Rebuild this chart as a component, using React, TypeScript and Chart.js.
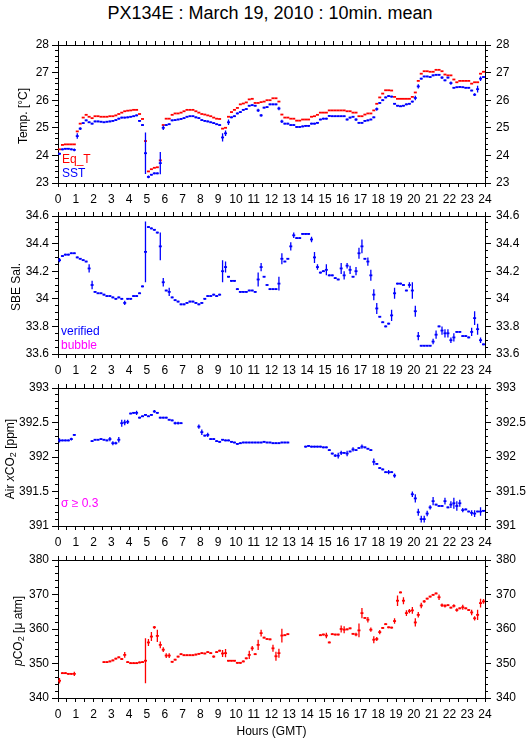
import React, { useEffect, useRef } from 'react';
import { Chart, registerables } from 'chart.js';

Chart.register(...registerables);

const FONT = "'Liberation Sans', Arial, Helvetica, sans-serif";
const PAGE_W = 529;
const PAGE_H = 739;
const PLOT_LEFT = 58;
const PLOT_RIGHT = 485;
const PLOT_H = 138;
const BAND = 30;
const PANEL_TOPS = [45, 216, 388, 560];
const YTITLE_X = [23, 16, 10, 18];

const HOUR_LABELS = ['0', '1', '2', '3', '4', '5', '6', '7', '8', '9', '10', '11', '12', '13', '14', '15', '16', '17', '18', '19', '20', '21', '22', '23', '24'];
const TEMP_TICKS = [23, 24, 25, 26, 27, 28];
const SAL_TICKS = [33.6, 33.8, 34, 34.2, 34.4, 34.6];
const AIR_TICKS = [391, 391.5, 392, 392.5, 393];
const PCO2_TICKS = [340, 350, 360, 370, 380];

// 10-minute means, 144 per day (index 0 = 00:00-00:10 GMT)
const EQ_T = [
  24.22, 24.38, 24.4, 24.4, 24.4, 24.4,
  24.87, 25.15, 25.37, 25.47, 25.4, 25.35,
  25.42, 25.42, 25.4, 25.4, 25.4, 25.42,
  25.42, 25.45, 25.5, 25.55, 25.6, 25.62,
  25.63, 25.65, 25.65, 25.5, 25.32, 24.52,
  23.42, 23.5, 23.55, 23.57, 23.82, 25.1,
  25.33, 25.33, 25.47, 25.52, 25.52, 25.55,
  25.6, 25.65, 25.65, 25.65, 25.6, 25.55,
  25.5, 25.48, 25.45, 25.42, 25.37, 25.33,
  25.32, 24.97, 25.0, 25.4, 25.57, 25.65,
  25.72, 25.85, 25.88, 25.92, 26.03, 26.05,
  25.9, 25.9, 25.93, 25.95, 26.0, 26.0,
  26.07, 26.07, 25.95, 25.48, 25.37, 25.37,
  25.33, 25.33, 25.26, 25.26, 25.3, 25.3,
  25.3, 25.4, 25.42, 25.47, 25.55, 25.55,
  25.55, 25.63, 25.63, 25.63, 25.63, 25.63,
  25.63, 25.6, 25.6, 25.55, 25.55, 25.42,
  25.42, 25.48, 25.52, 25.52, 25.63, 25.87,
  26.1, 26.24, 26.36, 26.36, 26.35, 26.12,
  26.05, 26.05, 26.05, 26.05, 26.05, 26.12,
  26.28, 26.7, 26.96, 27.05, 27.05, 27.03,
  27.03, 27.1, 27.1, 27.05, 26.93, 26.9,
  26.9, 26.75, 26.65, 26.7, 26.7, 26.7,
  26.7, 26.6, 26.65, 26.65, 26.96, 27.03,
];

const SST = [
  24.06, 24.22, 24.24, 24.24, 24.22, 24.2,
  24.7, 24.97, 25.17, 25.27, 25.2, 25.15,
  25.23, 25.23, 25.22, 25.2, 25.22, 25.23,
  25.25, 25.28, 25.33, 25.37, 25.37, 25.38,
  25.4, 25.42, 25.45, 25.25, 25.1, 24.08,
  23.22, 23.3, 23.35, 23.35, 23.72, 25.0,
  25.1, 25.13, 25.27, 25.28, 25.3, 25.32,
  25.35, 25.4, 25.42, 25.42, 25.38, 25.35,
  25.28, 25.25, 25.23, 25.2, 25.17, 25.13,
  25.1, 24.65, 24.8, 25.2, 25.38, 25.42,
  25.52, 25.57, 25.65, 25.68, 25.8, 25.82,
  25.8, 25.63, 25.45, 25.73, 25.75, 25.85,
  25.85, 25.85, 25.7, 25.23, 25.15, 25.15,
  25.1, 25.1, 25.03, 25.03, 25.05, 25.07,
  25.07, 25.15, 25.15, 25.18, 25.3, 25.33,
  25.33, 25.43, 25.42, 25.42, 25.42, 25.42,
  25.42, 25.3, 25.37, 25.4, 25.3, 25.18,
  25.18, 25.25, 25.27, 25.3, 25.38, 25.68,
  25.9, 26.0, 26.1, 26.15, 26.13, 25.87,
  25.8, 25.78, 25.8, 25.85, 25.87, 25.95,
  26.08, 26.5, 26.78, 26.86, 26.86, 26.84,
  26.9, 26.92, 26.92, 26.82, 26.72, 26.82,
  26.62, 26.45, 26.47, 26.48, 26.47, 26.45,
  26.45, 26.35, 26.2, 26.4, 26.78, 26.84,
];
const SST_SD: [number, number][] = [
  [0, 0.04], [5, 0.05], [6, 0.1], [7, 0.05], [29, 0.75], [30, 0.05], [34, 0.4], [35, 0.08],
  [55, 0.15], [56, 0.1], [57, 0.1], [67, 0.06], [68, 0.05], [74, 0.06], [75, 0.06], [97, 0.04],
  [100, 0.05], [107, 0.06], [120, 0.08], [121, 0.08], [129, 0.05], [132, 0.06], [140, 0.05],
  [141, 0.12], [142, 0.08],
];

const SAL = [
  34.28, 34.31, 34.32, 34.32, 34.33, 34.33,
  34.3, 34.29, 34.28, 34.27, 34.22, 34.1,
  34.05, 34.04, 34.04, 34.03, 34.02, 34.02,
  34.01, 34.0, 34.01, 34.0, 33.97, 34.0,
  34.0, 34.02, 34.02, 34.04, 34.09, 34.34,
  34.52, 34.51, 34.5, 34.48, 34.38, 34.12,
  34.06, 34.05, 34.01, 33.99, 33.98, 33.96,
  33.96, 33.97, 33.98, 33.98, 33.97, 33.96,
  33.97, 34.0, 34.02, 34.02, 34.03, 34.02,
  34.03, 34.2, 34.23, 34.16, 34.13, 34.13,
  34.07, 34.05, 34.05, 34.05, 34.06, 34.06,
  34.05, 34.14, 34.23, 34.16, 34.1, 34.07,
  34.07, 34.07, 34.11, 34.29, 34.27, 34.29,
  34.38, 34.46, 34.44, 34.44, 34.47, 34.47,
  34.47, 34.43, 34.3, 34.23, 34.19, 34.2,
  34.21, 34.17, 34.17, 34.15, 34.14, 34.22,
  34.17, 34.24, 34.21, 34.16, 34.2, 34.33,
  34.38, 34.29, 34.27, 34.17, 34.03, 33.93,
  33.87, 33.83, 33.8, 33.82, 33.88, 34.04,
  34.11, 34.11, 34.1, 34.06, 34.1, 34.06,
  33.91, 33.73, 33.66, 33.66, 33.66, 33.66,
  33.69, 33.74, 33.8, 33.77, 33.75, 33.75,
  33.7, 33.72, 33.76, 33.76, 33.73, 33.73,
  33.72, 33.76, 33.86, 33.78, 33.7, 33.67,
];
const SAL_SD: [number, number][] = [
  [0, 0.015], [10, 0.03], [11, 0.03], [22, 0.015], [29, 0.22], [34, 0.1], [35, 0.03], [37, 0.03],
  [55, 0.08], [56, 0.04], [67, 0.05], [68, 0.03], [74, 0.05], [75, 0.04], [78, 0.03], [79, 0.02],
  [85, 0.02], [86, 0.04], [87, 0.02], [90, 0.04], [95, 0.04], [96, 0.03], [97, 0.02], [98, 0.03],
  [100, 0.03], [101, 0.04], [102, 0.05], [104, 0.03], [105, 0.04], [106, 0.04], [107, 0.04],
  [112, 0.04], [113, 0.04], [118, 0.02], [119, 0.06], [120, 0.04], [121, 0.03], [126, 0.02],
  [127, 0.03], [129, 0.03], [130, 0.03], [131, 0.03], [132, 0.02], [133, 0.03], [139, 0.03],
  [140, 0.05], [141, 0.04], [142, 0.02],
];

const AIR = [
  392.24, 392.24, 392.24, 392.24, 392.26, 392.32,
  null, null, null, null, null, 392.23,
  392.25, 392.25, 392.26, 392.25, 392.24, 392.26,
  392.2, 392.2, 392.25, 392.49, 392.5, 392.51,
  392.63, 392.64, 392.64, 392.57, 392.59, 392.61,
  392.59, 392.61, 392.66, 392.64, 392.57, 392.57,
  392.57, 392.54, 392.53, 392.49, 392.49, 392.49,
  null, null, null, null, null, 392.44,
  392.36, 392.31, 392.32, 392.26, 392.26, 392.23,
  392.22, 392.25, 392.24, 392.24, 392.22, 392.21,
  392.19, 392.2, 392.21, 392.21, 392.21, 392.21,
  392.21, 392.21, 392.21, 392.22, 392.21, 392.21,
  392.2, 392.2, 392.2, 392.21, 392.21, 392.21,
  null, null, null, null, null, 392.15,
  392.16, 392.15, 392.15, 392.15, 392.15, 392.14,
  392.14, 392.1, 392.05, 392.02, 392.02, 392.06,
  392.06, 392.05, 392.08, 392.11, 392.1, 392.13,
  392.15, 392.14, 392.12, 392.1, 391.93, 391.9,
  391.84, 391.82, 391.78, 391.78, 391.78, 391.73,
  null, null, null, null, null, 391.46,
  391.4, 391.2, 391.1, 391.1, 391.18, 391.27,
  391.36, 391.31, 391.29, 391.29, 391.36, 391.27,
  391.31, 391.33, 391.29, 391.33, 391.23, 391.24,
  391.21, 391.19, 391.18, 391.21, 391.21, 391.22,
];
const AIR_SD: [number, number][] = [
  [0, 0.03], [4, 0.02], [17, 0.03], [18, 0.03], [19, 0.02], [20, 0.04], [21, 0.05], [22, 0.04],
  [23, 0.03], [26, 0.03], [32, 0.02], [39, 0.02], [40, 0.02], [47, 0.03], [48, 0.04], [50, 0.03],
  [93, 0.02], [94, 0.04], [95, 0.03], [97, 0.04], [99, 0.03], [102, 0.03], [106, 0.05], [111, 0.03],
  [113, 0.03], [119, 0.04], [120, 0.06], [121, 0.05], [122, 0.05], [123, 0.05], [124, 0.04],
  [125, 0.03], [126, 0.06], [130, 0.05], [132, 0.05], [133, 0.08], [134, 0.07], [135, 0.05],
  [136, 0.03], [139, 0.04], [140, 0.05], [142, 0.06],
];

const PCO2 = [
  345.0, 347.2, 347.2, 347.0, 347.0, 347.0,
  null, null, null, null, null, null,
  null, null, null, 350.4, 350.4, 350.6,
  350.9, 351.4, 351.8, 351.3, 352.5, 350.4,
  350.1, 350.1, 350.1, 350.3, 350.4, 350.8,
  356.1, 357.8, 360.5, 358.0, 355.4, 354.0,
  352.3, 352.3, 350.5, 351.1, 352.0, 352.7,
  352.4, 352.4, 352.4, 352.4, 352.6, 352.8,
  353.0, 352.9, 353.3, 353.0, 352.0, 353.3,
  353.7, 352.9, 353.0, 350.8, 350.8, 350.8,
  350.2, 350.2, 350.6, 351.5, 352.5, 354.4,
  352.7, 355.4, 358.8, 357.5, 357.1, 357.0,
  354.4, 352.1, 353.0, 358.1, 358.2, 358.5,
  null, null, null, null, null, null,
  null, null, null, null, 358.2, 358.4,
  358.1, 356.1, 358.5, 358.4, 358.4, 360.0,
  359.8, 359.9, 360.2, 358.6, 358.4, 359.6,
  364.6, 363.2, 362.7, 359.8, 356.9, 357.1,
  359.1, 360.3, 361.4, 360.5, 360.4, 362.3,
  368.2, 370.6, 368.2, 364.6, 365.2, 365.4,
  361.9, 364.1, 366.8, 368.0, 368.8, 369.4,
  369.9, 370.3, 369.2, 366.9, 366.7, 366.9,
  366.2, 366.7, 365.5, 366.0, 366.3, 366.0,
  365.5, 364.8, 363.1, 364.1, 367.5, 368.0,
];
const PCO2_SD: [number, number][] = [
  [0, 0.8], [5, 0.6], [22, 0.8], [29, 6.5], [30, 1.0], [31, 1.3], [32, 0.4], [33, 1.8], [34, 1.0],
  [35, 0.7], [36, 0.7], [37, 0.7], [52, 0.3], [55, 1.0], [56, 1.2], [64, 1.2], [65, 0.7], [67, 1.5],
  [68, 1.0], [72, 1.0], [73, 1.3], [74, 1.3], [75, 2.0], [90, 0.8], [95, 1.0], [96, 1.0], [100, 0.5],
  [101, 2.0], [102, 1.5], [104, 0.8], [105, 0.6], [106, 1.0], [107, 0.6], [108, 0.6], [113, 0.8],
  [114, 1.5], [116, 1.0], [117, 0.8], [118, 0.6], [119, 1.0], [120, 1.2], [121, 0.8], [122, 0.8],
  [123, 0.4], [128, 0.8], [129, 0.5], [130, 0.5], [133, 0.5], [134, 0.5], [136, 0.7], [139, 0.8],
  [140, 0.6], [141, 1.5], [142, 1.3], [143, 0.7],
];

const RED = '#ff0000';
const BLUE = '#0000ff';
const MAGENTA = '#ff00ff';

type Series = {
  label: string;
  values: (number | null)[];
  color: string;
  sdDefault: number | null;
  sdOverrides: [number, number][];
};

type Panel = {
  min: number;
  max: number;
  major: number[];
  minorStep: number;
  series: Series[];
};

const PANELS: Panel[] = [
  {
    min: 23, max: 28, major: TEMP_TICKS, minorStep: 0.2,
    series: [
      { label: 'SST', values: SST, color: BLUE, sdDefault: 0.03, sdOverrides: SST_SD },
      { label: 'Eq_T', values: EQ_T, color: RED, sdDefault: null, sdOverrides: [] },
    ],
  },
  {
    min: 33.6, max: 34.6, major: SAL_TICKS, minorStep: 0.05,
    series: [{ label: 'verified', values: SAL, color: BLUE, sdDefault: 0.006, sdOverrides: SAL_SD }],
  },
  {
    min: 391, max: 393, major: AIR_TICKS, minorStep: 0.1,
    series: [{ label: 'Air xCO2', values: AIR, color: BLUE, sdDefault: 0.012, sdOverrides: AIR_SD }],
  },
  {
    min: 340, max: 380, major: PCO2_TICKS, minorStep: 2,
    series: [{ label: 'pCO2', values: PCO2, color: RED, sdDefault: 0.25, sdOverrides: PCO2_SD }],
  },
];

const binCenter = (i: number) => i / 6 + 1 / 12;

function buildPoints(s: Series) {
  const sd: (number | null)[] = s.values.map(() => s.sdDefault);
  s.sdOverrides.forEach(([i, v]) => { sd[i] = v; });
  const pts: { x: number; y: number; sd: number | null }[] = [];
  s.values.forEach((v, i) => {
    if (v !== null && v !== undefined) pts.push({ x: binCenter(i), y: v, sd: sd[i] });
  });
  return pts;
}

const errorBarPlugin = {
  id: 'errorBars',
  afterDatasetsDraw(chart: any) {
    const { ctx, scales } = chart;
    const xs = scales.x;
    const ys = scales.y;
    chart.data.datasets.forEach((ds: any) => {
      ctx.save();
      ctx.strokeStyle = ds.pointBorderColor;
      ctx.lineWidth = 1.3;
      ctx.beginPath();
      ds.data.forEach((p: any) => {
        if (!p.sd) return;
        const x = xs.getPixelForValue(p.x);
        ctx.moveTo(x, ys.getPixelForValue(p.y + p.sd));
        ctx.lineTo(x, ys.getPixelForValue(p.y - p.sd));
      });
      ctx.stroke();
      ctx.restore();
    });
  },
};

function halfHourTicks() {
  const t: { value: number }[] = [];
  for (let i = 0; i <= 48; i++) t.push({ value: i / 2 });
  return t;
}

function minorTicks(min: number, max: number, step: number) {
  const t: { value: number }[] = [];
  const n = Math.round((max - min) / step);
  for (let i = 0; i <= n; i++) t.push({ value: min + i * step });
  return t;
}

function makeConfig(panel: Panel): any {
  const tickFont = { family: FONT, size: 12 };
  const xCommon = (position: 'top' | 'bottom', labels: boolean) => ({
    type: 'linear',
    axis: 'x',
    position,
    min: 0,
    max: 24,
    afterBuildTicks: (s: any) => { s.ticks = halfHourTicks(); },
    afterFit: (s: any) => { s.height = BAND; },
    grid: { drawOnChartArea: false, drawTicks: true, tickLength: 4, color: '#000', lineWidth: 1 },
    border: { display: true, color: '#000', width: 1 },
    ticks: {
      display: labels,
      autoSkip: false,
      maxRotation: 0,
      minRotation: 0,
      padding: 5,
      color: '#000',
      font: tickFont,
      callback: (v: number) => (Number.isInteger(v) ? HOUR_LABELS[v] : ''),
    },
  });
  const yMajor = (position: 'left' | 'right', width: number, padding: number) => ({
    type: 'linear',
    axis: 'y',
    position,
    weight: 1,
    min: panel.min,
    max: panel.max,
    afterBuildTicks: (s: any) => { s.ticks = panel.major.map((v) => ({ value: v })); },
    afterFit: (s: any) => { s.width = width; },
    grid: { drawOnChartArea: false, drawTicks: true, tickLength: 6, color: '#000', lineWidth: 1 },
    border: { display: true, color: '#000', width: 1 },
    ticks: { padding, color: '#000', font: tickFont, callback: (v: number) => String(v) },
  });
  const yMinor = (position: 'left' | 'right') => ({
    type: 'linear',
    axis: 'y',
    position,
    weight: 0,
    min: panel.min,
    max: panel.max,
    afterBuildTicks: (s: any) => { s.ticks = minorTicks(panel.min, panel.max, panel.minorStep); },
    afterFit: (s: any) => { s.width = 0; },
    grid: { drawOnChartArea: false, drawTicks: true, tickLength: 3, color: '#000', lineWidth: 1 },
    border: { display: true, color: '#000', width: 1 },
    ticks: { display: false },
  });

  return {
    type: 'scatter',
    data: {
      datasets: panel.series.map((s) => ({
        label: s.label,
        data: buildPoints(s),
        showLine: false,
        pointStyle: 'line',
        pointRadius: 1.5,
        pointHoverRadius: 1.5,
        pointBorderWidth: 1.8,
        pointHoverBorderWidth: 1.8,
        pointBorderColor: s.color,
        pointBackgroundColor: s.color,
        borderColor: s.color,
        clip: false,
      })),
    },
    options: {
      responsive: false,
      maintainAspectRatio: false,
      animation: false,
      devicePixelRatio: 1,
      events: [],
      layout: { padding: 0 },
      plugins: {
        legend: { display: false },
        tooltip: { enabled: false },
        title: { display: false },
      },
      scales: {
        x: xCommon('bottom', true),
        xTop: xCommon('top', false),
        y: yMajor('left', PLOT_LEFT, 3),
        yMinor: yMinor('left'),
        yRight: yMajor('right', PAGE_W - PLOT_RIGHT, 5),
        yRightMinor: yMinor('right'),
      },
    },
    plugins: [errorBarPlugin],
  };
}

function PanelChart({ panel, top }: { panel: Panel; top: number }) {
  const ref = useRef<HTMLCanvasElement | null>(null);
  useEffect(() => {
    if (!ref.current) return;
    const chart = new Chart(ref.current, makeConfig(panel));
    return () => chart.destroy();
  }, [panel]);
  return (
    <canvas
      ref={ref}
      width={PAGE_W}
      height={PLOT_H + 2 * BAND}
      style={{ position: 'absolute', left: 0, top: top - BAND, width: PAGE_W, height: PLOT_H + 2 * BAND }}
    />
  );
}

const txt = (extra: React.CSSProperties): React.CSSProperties => ({
  position: 'absolute',
  fontFamily: FONT,
  fontSize: 12,
  lineHeight: '12px',
  whiteSpace: 'nowrap',
  color: '#000',
  ...extra,
});

const subStyle: React.CSSProperties = { fontSize: 9, verticalAlign: '-2px', lineHeight: 0 };

function YTitle({ x, center, children }: { x: number; center: number; children: React.ReactNode }) {
  return (
    <div style={txt({ left: x, top: center, transform: 'translate(-50%, -50%) rotate(-90deg)' })}>
      {children}
    </div>
  );
}

export default function App() {
  const centers = PANEL_TOPS.map((t) => t + PLOT_H / 2 + 2);
  return (
    <div style={{ position: 'absolute', left: 0, top: 0, width: PAGE_W, height: PAGE_H, background: '#fff', overflow: 'hidden' }}>
      <div style={txt({ left: 270, top: 4, fontSize: 18, lineHeight: '18px', transform: 'translateX(-50%)' })}>
        PX134E : March 19, 2010 : 10min. mean
      </div>
      {PANELS.map((p, i) => (
        <PanelChart key={i} panel={p} top={PANEL_TOPS[i]} />
      ))}
      <YTitle x={YTITLE_X[0]} center={centers[0]}>Temp. [°C]</YTitle>
      <YTitle x={YTITLE_X[1]} center={centers[1]}>SBE Sal.</YTitle>
      <YTitle x={YTITLE_X[2]} center={centers[2]}>
        Air <i>x</i>CO<sub style={subStyle}>2</sub> [ppm]
      </YTitle>
      <YTitle x={YTITLE_X[3]} center={centers[3]}>
        <i>p</i>CO<sub style={subStyle}>2</sub> [μ atm]
      </YTitle>
      <div style={txt({ left: 62, top: 152.5, color: RED })}>Eq_T</div>
      <div style={txt({ left: 62, top: 166.5, color: BLUE })}>SST</div>
      <div style={txt({ left: 61, top: 325, color: BLUE })}>verified</div>
      <div style={txt({ left: 61, top: 338.5, color: MAGENTA })}>bubble</div>
      <div style={txt({ left: 61, top: 497, color: MAGENTA })}>σ ≥ 0.3</div>
      <div style={txt({ left: 271.5, top: 725, transform: 'translateX(-50%)' })}>Hours (GMT)</div>
    </div>
  );
}
